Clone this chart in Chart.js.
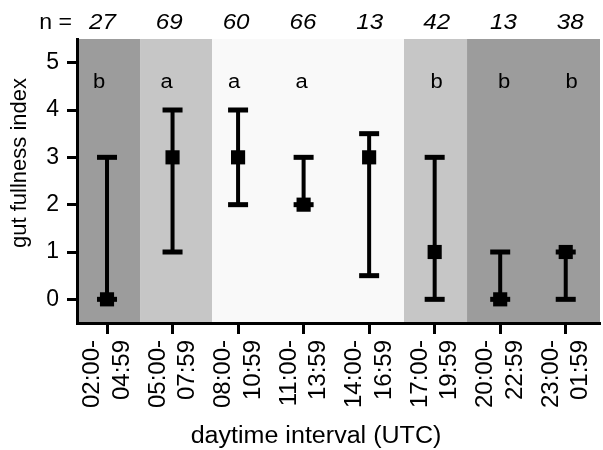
<!DOCTYPE html>
<html>
<head>
<meta charset="utf-8">
<script src="https://cdn.jsdelivr.net/npm/chart.js@4"></script>
<style>
  html, body { margin: 0; padding: 0; background: #fff; }
  #wrap { width: 603px; height: 450px; }
</style>
</head>
<body>
<div id="wrap"><canvas id="chart"></canvas></div>
<script>
/* --- DATA --- */
const intervals = [
    ['02:00-', '04:59'], ['05:00-', '07:59'], ['08:00-', '10:59'], ['11:00-', '13:59'],
    ['14:00-', '16:59'], ['17:00-', '19:59'], ['20:00-', '22:59'], ['23:00-', '01:59']
];
const medians = [0, 3, 3, 2, 3, 1, 0, 1];
const lowerQ = [0, 1, 2, 2, 0.5, 0, 0, 0];
const upperQ = [3, 4, 4, 3, 3.5, 3, 1, 1];
const sampleSizes = [27, 69, 60, 66, 13, 42, 13, 38];
const groupLetters = ['b', 'a', 'a', 'a', '', 'b', 'b', 'b'];
const yTicks = [0, 1, 2, 3, 4, 5];
// light regime along the x axis (in interval units): night, twilight, day, twilight, night
const bandEdges = [-0.458, 0.504, 1.602, 4.532, 5.494, 7.523];
const bandShades = ['#9c9c9c', '#c6c6c6', '#f9f9f9', '#c6c6c6', '#9c9c9c'];

/* --- CONFIG --- */
const FONT = "'Liberation Sans', Arial, sans-serif";
Chart.defaults.font.family = FONT;
Chart.defaults.color = '#000';

// text in the original is a little wider than tall
function wideText(ctx, txt, x, y, sx) {
    ctx.save();
    ctx.scale(sx, 1);
    ctx.fillText(txt, x / sx, y);
    ctx.restore();
}

const decor = {
    id: 'decor',
    beforeDraw(chart) {
        const { ctx, chartArea: a, scales: { x } } = chart;
        ctx.save();
        for (let i = 0; i < bandShades.length; i++) {
            const x0 = x.getPixelForValue(bandEdges[i]);
            const x1 = x.getPixelForValue(bandEdges[i + 1]);
            ctx.fillStyle = bandShades[i];
            ctx.fillRect(x0, a.top, x1 - x0, a.bottom - a.top);
        }
        ctx.restore();
    },
    beforeDatasetsDraw(chart) {
        const { ctx, scales: { x, y } } = chart;
        ctx.save();
        ctx.fillStyle = '#000';
        medians.forEach((m, i) => {
            const px = x.getPixelForValue(i);
            const yHi = y.getPixelForValue(upperQ[i]);
            const yLo = y.getPixelForValue(lowerQ[i]);
            ctx.fillRect(px - 2, yHi, 4, yLo - yHi);       // stem
            ctx.fillRect(px - 10, yHi - 2.5, 20, 5);       // top cap
            ctx.fillRect(px - 10, yLo - 2.5, 20, 5);       // bottom cap
        });
        ctx.restore();
    },
    afterDraw(chart) {
        const { ctx, scales: { x, y } } = chart;
        ctx.save();
        ctx.fillStyle = '#000';
        ctx.textBaseline = 'middle';

        // sample sizes row
        ctx.font = `22px ${FONT}`;
        ctx.textAlign = 'right';
        wideText(ctx, 'n =', 72, 23, 1.05);
        ctx.font = `italic 22px ${FONT}`;
        ctx.textAlign = 'center';
        sampleSizes.forEach((n, i) => {
            wideText(ctx, String(n), x.getPixelForValue(1.02 * i - 0.07), 23, 1.1);
        });

        // significance letters
        ctx.font = `20px ${FONT}`;
        groupLetters.forEach((g, i) => {
            if (g) wideText(ctx, g, x.getPixelForValue(1.03 * i - 0.12), y.getPixelForValue(4.58), 1.1);
        });

        // axis titles
        ctx.font = `23px ${FONT}`;
        wideText(ctx, 'daytime interval (UTC)', 316, 437, 1.09);
        ctx.translate(20, 163);
        ctx.rotate(-Math.PI / 2);
        ctx.font = `22px ${FONT}`;
        ctx.fillText('gut fullness index', 0, 0);
        ctx.restore();
    }
};

new Chart(document.getElementById('chart').getContext('2d'), {
    type: 'scatter',
    data: {
        datasets: [{
            data: medians.map((m, i) => ({ x: i, y: m })),
            pointStyle: 'rect',
            pointRadius: 10,
            pointHoverRadius: 10,
            backgroundColor: '#000',
            borderWidth: 0
        }]
    },
    options: {
        responsive: true,
        maintainAspectRatio: false,
        animation: false,
        layout: { autoPadding: false, padding: { top: 39, right: 3, left: 0, bottom: 0 } },
        plugins: { legend: { display: false }, tooltip: { enabled: false } },
        scales: {
            x: {
                type: 'linear',
                min: bandEdges[0],
                max: bandEdges[bandEdges.length - 1],
                afterBuildTicks: s => { s.ticks = intervals.map((_, i) => ({ value: i })); },
                afterFit: s => { s.height = 127; s.paddingLeft = 0; s.paddingRight = 0; },
                ticks: {
                    callback: v => intervals[v],
                    autoSkip: false,
                    minRotation: 90,
                    maxRotation: 90,
                    labelOffset: -14.5,
                    padding: 6,
                    font: { size: 24, lineHeight: 1.23 }
                },
                grid: { drawOnChartArea: false, tickLength: 11, tickWidth: 3, tickColor: '#000' },
                border: { color: '#000', width: 3 }
            },
            y: {
                min: -0.5,
                max: 5.5,
                afterBuildTicks: s => { s.ticks = yTicks.map(v => ({ value: v })); },
                afterFit: s => { s.width = 77; s.paddingTop = 0; s.paddingBottom = 0; },
                ticks: { font: { size: 23 }, padding: 8 },
                grid: { drawOnChartArea: false, tickLength: 10, tickWidth: 3, tickColor: '#000' },
                border: { color: '#000', width: 3 }
            }
        }
    },
    plugins: [decor]
});
</script>
</body>
</html>
